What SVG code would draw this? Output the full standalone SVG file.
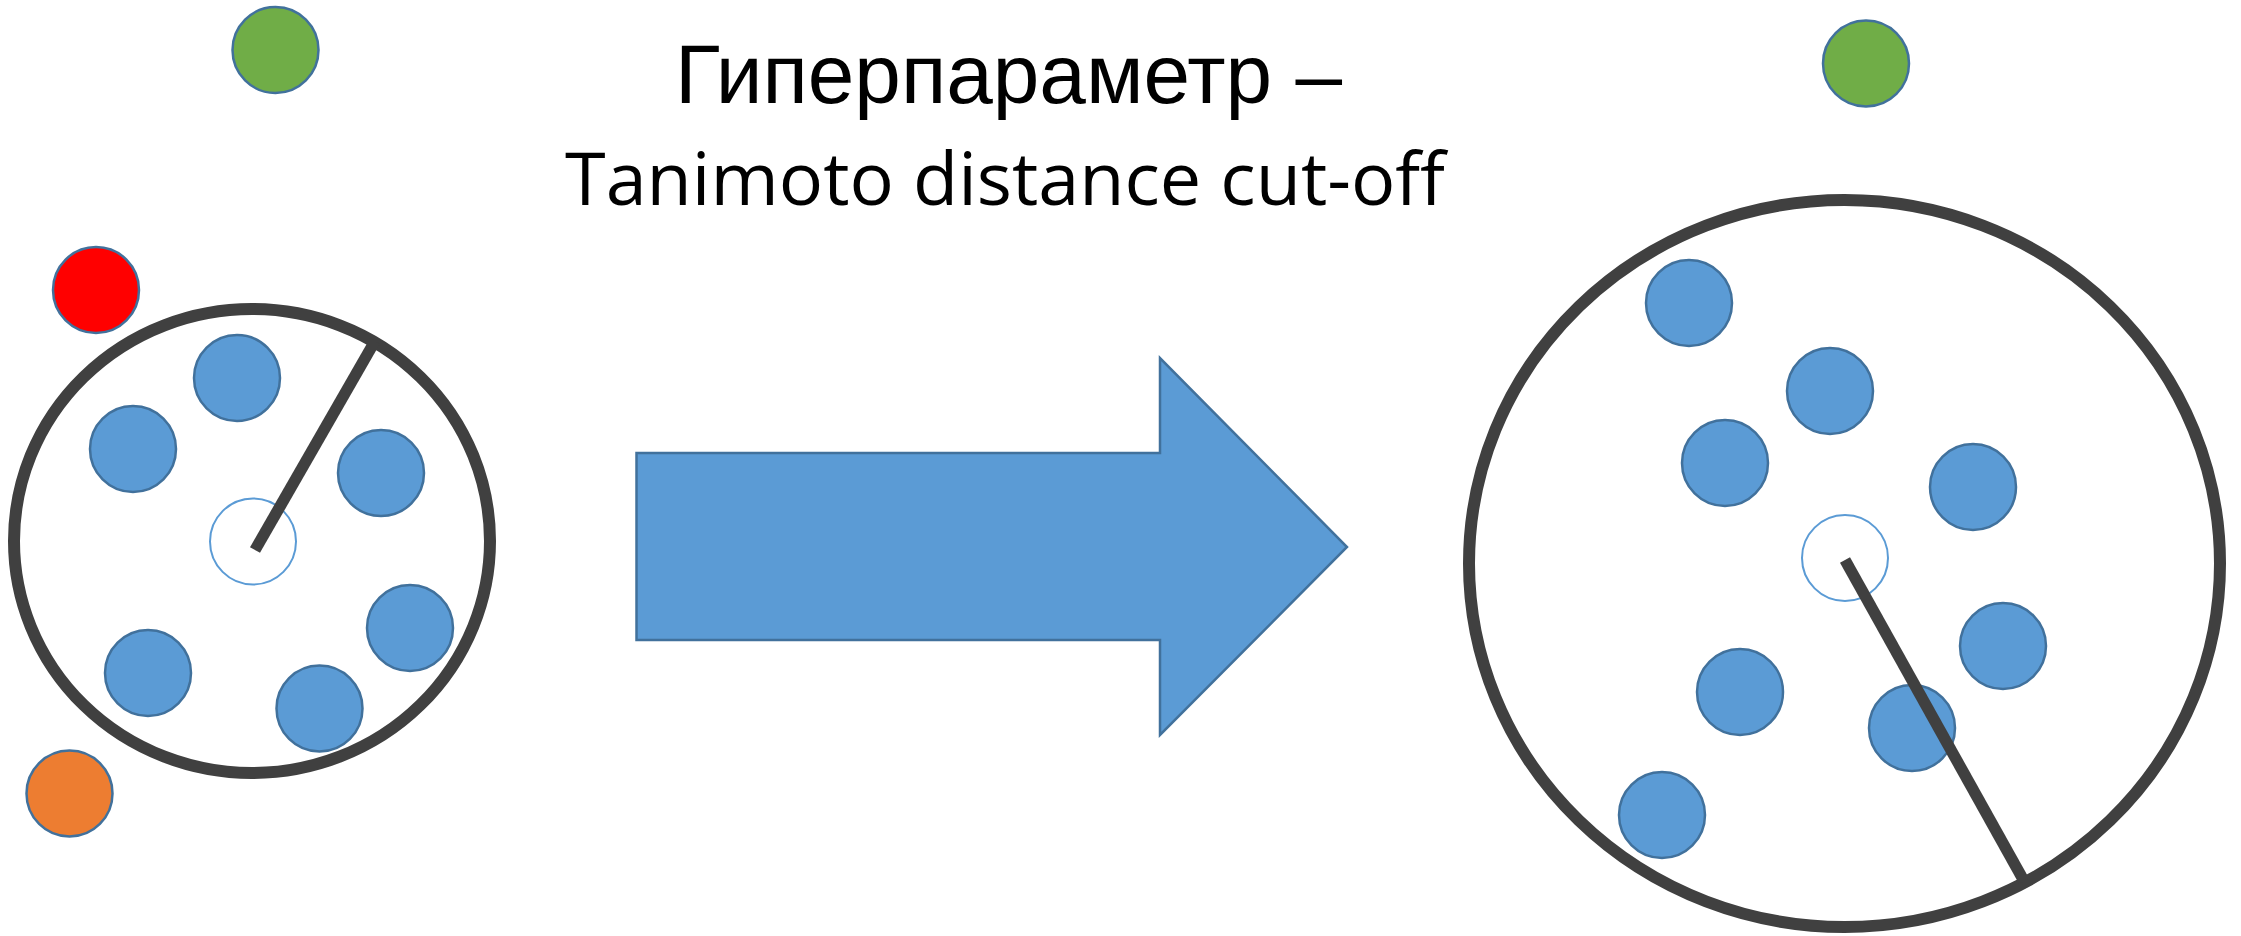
<svg xmlns="http://www.w3.org/2000/svg" width="2241" height="936" viewBox="0 0 2241 936">
  <style>
    .ring { fill: none; stroke: #404040; stroke-width: 12; }
    .radius { stroke: #404040; stroke-width: 11.5; stroke-linecap: butt; }
    .pt { stroke: #41719C; stroke-width: 2.5; }
    .blue { fill: #5B9BD5; }
    .query { fill: #FFFFFF; stroke: #5B9BD5; stroke-width: 2; }
    .green { fill: #70AD47; }
    .red { fill: #FF0000; }
    .orange { fill: #ED7D31; }
    .title1 { font-family: "Liberation Sans", Arial, sans-serif; font-size: 84px; fill: #000000; }
    .title2 { font-family: "Open Sans", Lato, sans-serif; font-size: 74px; fill: #000000; }
  </style>

  <rect width="2241" height="936" fill="#FFFFFF"/>

  <!-- heading -->
  <g id="title">
    <text class="title1" x="675" y="103" textLength="667" lengthAdjust="spacingAndGlyphs">Гиперпараметр –</text>
    <text class="title2" x="565" y="205" textLength="880" lengthAdjust="spacingAndGlyphs">Tanimoto distance cut-off</text>
  </g>

  <!-- small cut-off: neighbourhood ring and points -->
  <g id="left-ring">
    <ellipse class="ring" cx="252" cy="541" rx="238" ry="232"/>
  </g>
  <g id="left-points">
    <circle class="pt blue" cx="237" cy="378" r="43"/>
    <circle class="pt blue" cx="133" cy="449" r="43"/>
    <circle class="pt blue" cx="381" cy="473" r="43"/>
    <circle class="pt blue" cx="410" cy="628" r="43"/>
    <circle class="pt blue" cx="148" cy="673" r="43"/>
    <circle class="pt blue" cx="319.5" cy="708.5" r="43"/>
    <circle class="query" cx="253" cy="541.5" r="43"/>
  </g>
  <g id="left-outliers">
    <circle class="pt green" cx="275.5" cy="50" r="43"/>
    <circle class="pt red" cx="96" cy="290" r="43"/>
    <circle class="pt orange" cx="69.5" cy="793.5" r="43"/>
  </g>

  <!-- transition arrow -->
  <g id="arrow">
    <polygon class="pt blue" points="636.5,453 1160,453 1160,358 1347,547 1160,735 1160,640 636.5,640"/>
  </g>

  <!-- large cut-off: neighbourhood ring and points -->
  <g id="right-ring">
    <ellipse class="ring" cx="1844.5" cy="563.5" rx="375.5" ry="363.5"/>
  </g>
  <g id="right-points">
    <circle class="pt blue" cx="1689" cy="303" r="43"/>
    <circle class="pt blue" cx="1830" cy="391" r="43"/>
    <circle class="pt blue" cx="1725" cy="463" r="43"/>
    <circle class="pt blue" cx="1973" cy="487" r="43"/>
    <circle class="pt blue" cx="2003" cy="646" r="43"/>
    <circle class="pt blue" cx="1740" cy="692" r="43"/>
    <circle class="pt blue" cx="1912" cy="728" r="43"/>
    <circle class="pt blue" cx="1662" cy="815" r="43"/>
    <circle class="query" cx="1845" cy="558" r="43"/>
  </g>
  <g id="right-outliers">
    <circle class="pt green" cx="1866" cy="63.5" r="43"/>
  </g>

  <!-- radius connectors -->
  <g id="connectors">
    <line class="radius" x1="255" y1="550" x2="375" y2="341"/>
    <line class="radius" x1="1845" y1="560" x2="2024" y2="881"/>
  </g>
</svg>
